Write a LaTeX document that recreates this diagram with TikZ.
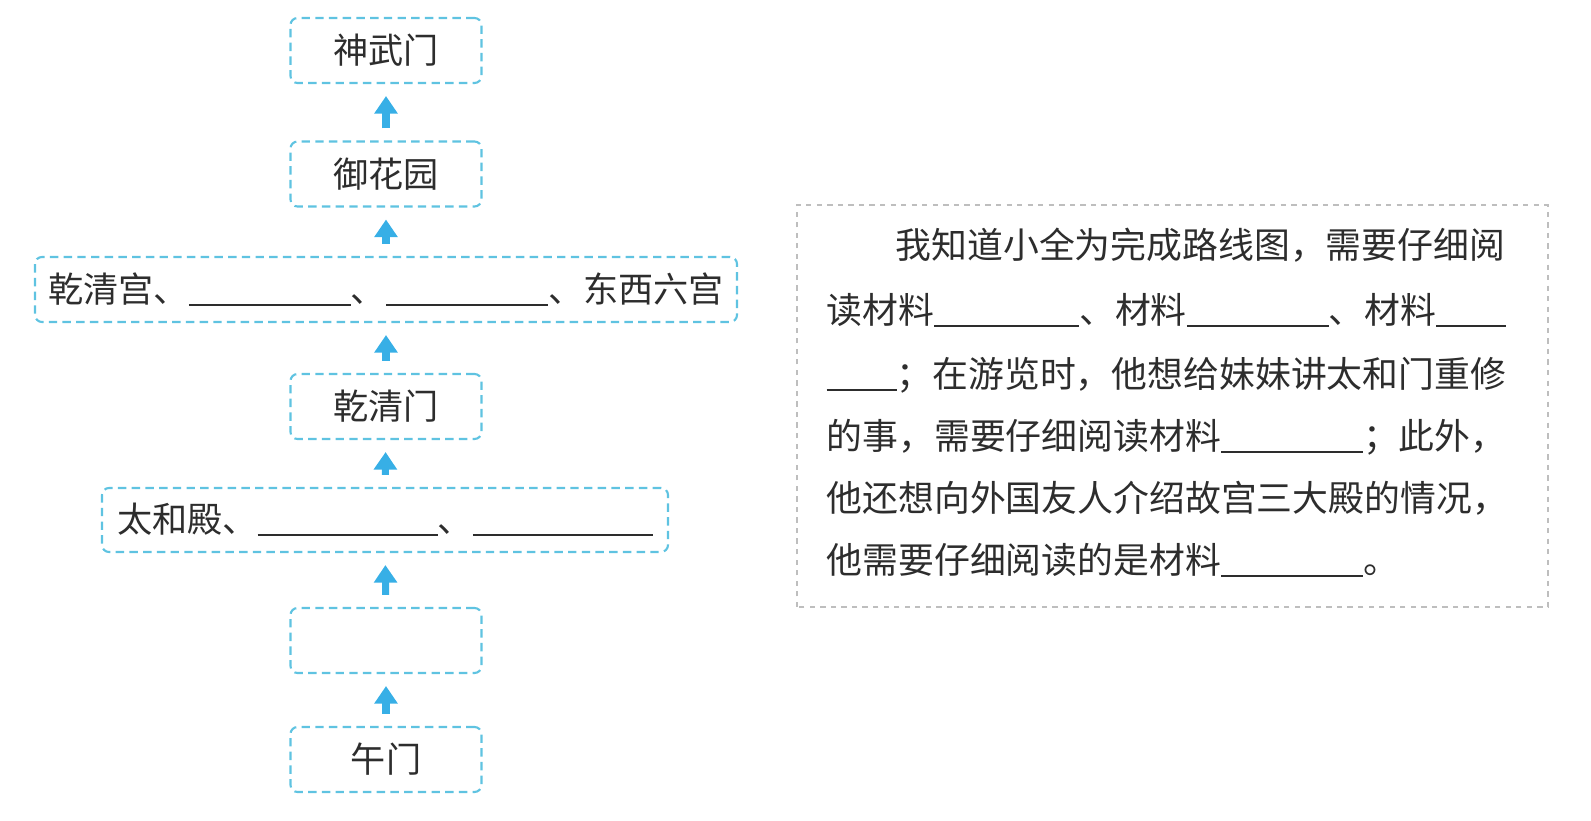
\documentclass[tikz,border=0pt]{standalone}
\usepackage{fontspec}
\setmainfont{Noto Sans CJK SC}
\usetikzlibrary{arrows.meta}
\definecolor{routecyan}{RGB}{95,195,225}
\definecolor{arrowblue}{RGB}{55,175,230}
\definecolor{notegray}{RGB}{190,190,190}
\definecolor{inkgray}{RGB}{45,45,45}
\newcommand{\blank}[1]{\rule[-0.1em]{#1}{0.6pt}}

\begin{document}
\begin{tikzpicture}[
  stop/.style={draw=routecyan, dash pattern=on 2.4pt off 1.5pt, line width=0.6pt,
    rounded corners=2pt, minimum width=1.91cm, minimum height=0.65cm, inner sep=0pt,
    text=inkgray, font=\fontsize{10}{12}\selectfont},
  go/.style={draw=arrowblue, line width=2pt, -{Triangle[width=6.4pt,length=5pt]},
    shorten <=0.12cm, shorten >=0.12cm},
  note/.style={draw=notegray, dash pattern=on 1.5pt off 1.5pt, line width=0.4pt},
  line/.style={anchor=west, inner sep=0pt, text=inkgray, font=\fontsize{10.2}{12}\selectfont}
]
\useasboundingbox (0,0) rectangle (15.91,8.20);

% Route boxes, from top to bottom
\node[stop] (shenwu) at (3.86,7.695) {神武门};
\node[stop] (yuhua) at (3.86,6.46) {御花园};
\node[stop, minimum width=7.02cm] (qianqinggong) at (3.86,5.305)
  {乾清宫、\blank{1.62cm}、\blank{1.62cm}、东西六宫};
\node[stop] (qianqingmen) at (3.86,4.135) {乾清门};
\node[stop, minimum width=5.66cm, minimum height=0.64cm] (taihe) at (3.85,3.00)
  {太和殿、\blank{1.8cm}、\blank{1.8cm}};
\node[stop] (empty) at (3.86,1.795) {};
\node[stop] (wumen) at (3.86,0.605) {午门};

% Arrows
\draw[go] (wumen) -- (empty);
\draw[go] (empty) -- (taihe);
\draw[go] (taihe) -- (qianqingmen);
\draw[go] (qianqingmen) -- (qianqinggong);
\draw[go] (qianqinggong) -- (yuhua);
\draw[go] (yuhua) -- (shenwu);

% Text box on the right
\draw[note] (7.97,2.13) rectangle (15.48,6.15);
\node[line] (l1) at (8.95,5.75) {我知道小全为完成路线图，需要仔细阅};
\node[line] (l2) at (8.26,5.10) {读材料\blank{1.45cm}、材料\blank{1.42cm}、材料\blank{0.70cm}};
\node[line] (l3) at (8.26,4.45) {\blank{0.70cm}；在游览时，他想给妹妹讲太和门重修};
\node[line] (l4) at (8.26,3.83) {的事，需要仔细阅读材料\blank{1.42cm}；此外，};
\node[line] (l5) at (8.26,3.22) {他还想向外国友人介绍故宫三大殿的情况，};
\node[line] (l6) at (8.26,2.60) {他需要仔细阅读的是材料\blank{1.42cm}。};
\end{tikzpicture}
\end{document}
